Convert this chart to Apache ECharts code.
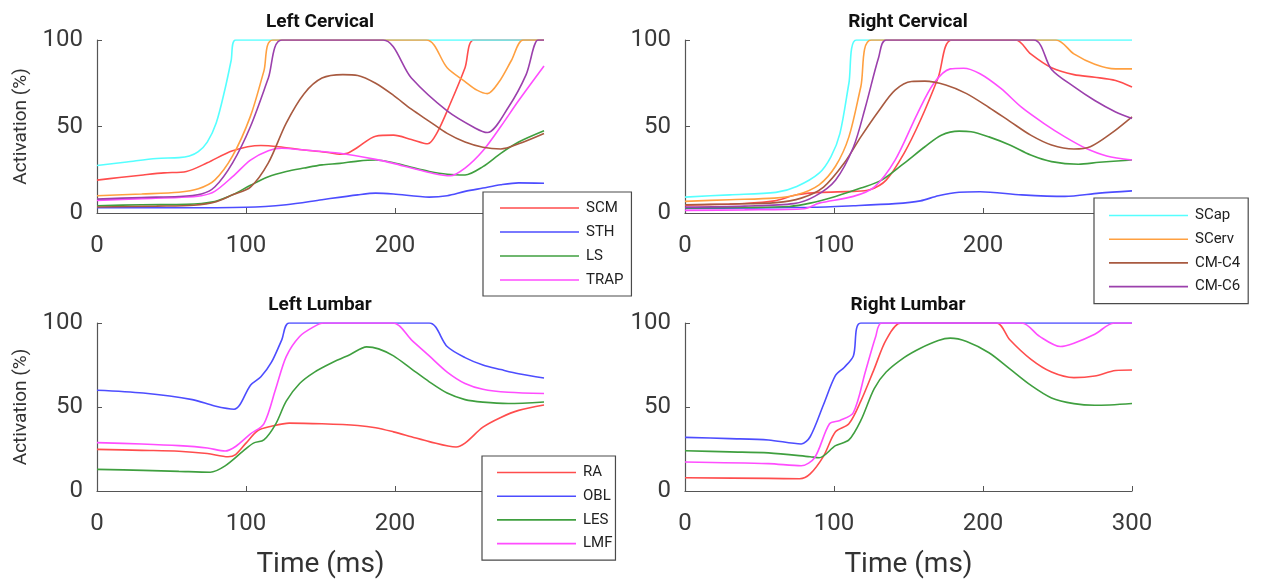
<!DOCTYPE html>
<html>
<head>
<meta charset="utf-8">
<script src="https://cdn.jsdelivr.net/npm/echarts@6/dist/echarts.min.js"></script>
<style>html,body{margin:0;padding:0;background:#fff}#c{width:1264px;height:580px}</style>
</head>
<body>
<div id="c"></div>
<script>
// ---- tick labels / axis ----
const xTicks = [0, 100, 200, 300];
const yTicks = [0, 50, 100];
const panelTitles = ['Left Cervical', 'Right Cervical', 'Left Lumbar', 'Right Lumbar'];
const cervicalNames = ['SCM', 'STH', 'LS', 'TRAP', 'SCap', 'SCerv', 'CM-C4', 'CM-C6'];
const lumbarNames = ['RA', 'OBL', 'LES', 'LMF'];

// ---- Left Cervical: [time ms, activation %] ----
const lcSCM = [[0,19],[15,20.5],[31,22],[45,23.2],[60,24],[74,29],[91,36],[110,39],[122,38.3],[139,36.4],[155,35],[163,34],[168,34.5],[175,38],[187,44.4],[199,45],[211,42.5],[222,40],[228,46],[237,63],[247,84],[253,100],[300,100]];
const lcSTH = [[0,3],[50,3],[100,3.3],[127,4.8],[151,7.7],[175,10.5],[187,11.5],[199,11],[223,9.2],[235,10],[247,12.5],[259,14.4],[271,16.3],[283,17.4],[300,17.2]];
const lcLS = [[0,4.2],[30,4.8],[60,5],[79,6.7],[91,10.5],[103,16],[115,21],[127,24],[139,26],[151,27.8],[163,28.7],[175,30],[187,30.6],[199,29],[211,26.4],[223,24],[235,22.4],[247,22],[259,26.8],[271,34.5],[283,41],[300,47.5]];
const lcTRAP = [[0,7.3],[30,8.3],[55,9],[70,10],[79,12.5],[91,21],[103,30.6],[115,36],[124,37.4],[139,36.4],[163,34.5],[187,31],[199,28.7],[211,26],[223,23.4],[237,21.5],[247,26],[259,36],[271,50],[283,65],[300,85]];
const lcSCap = [[0,27.5],[20,29.5],[40,31.5],[55,32],[62,33],[68,35.5],[74,41],[80,52],[86,72],[90,88],[93,100],[300,100]];
const lcSCerv = [[0,10],[30,11],[55,12],[68,14],[79,19],[91,33],[103,56],[112,82],[118,100],[221,100],[235,84],[247,76],[255,71],[262,69],[270,76],[278,88],[286,100],[300,100]];
const lcCMC4 = [[0,3.5],[40,4],[65,4.5],[80,6.5],[91,10.5],[103,15],[115,29],[127,52],[139,69],[151,78],[165,80],[175,79.5],[187,75],[199,68],[211,60],[223,53],[235,46],[247,41],[259,38],[271,37],[283,40],[300,46]];
const lcCMC6 = [[0,8],[30,9],[55,9.5],[70,11],[79,15],[91,29],[103,50],[115,78],[124,100],[192,100],[211,78],[235,59],[254,49],[262,46.5],[276,61],[288,80],[296,100],[300,100]];

// ---- Right Cervical ----
const rcSCM = [[0,4.5],[40,5.5],[60,7],[75,10.5],[90,11.9],[113,12.5],[124,13.4],[135,19],[147,34.5],[158,53.6],[170,78.5],[179,100],[222,100],[232,92],[246,84],[261,80],[275,78.5],[289,76.6],[300,72.8]];
const rcSTH = [[0,2.7],[84,3.3],[113,4.2],[141,5.4],[158,7],[170,10],[184,12],[198,12.3],[226,10.5],[255,9.6],[278,11.5],[300,12.8]];
const rcLS = [[0,2.9],[40,3.2],[70,3.8],[84,5.7],[101,9.6],[118,14.4],[132,19],[147,28.7],[161,38.3],[172,45],[184,47.3],[192,47],[204,44],[218,39.3],[232,33.5],[246,29.7],[264,28.2],[278,29.3],[300,30.6]];
const rcTRAP = [[0,1.5],[40,1.8],[80,2.5],[90,5.7],[113,9.6],[127,15],[141,30.6],[156,57.5],[167,75],[178,83.3],[187,83.7],[198,80.5],[212,72],[226,61],[241,51.7],[255,44],[269,37.4],[283,33],[300,30.6]];
const rcSCap = [[0,9.2],[30,10.5],[61,11.9],[75,15.3],[90,23],[98,32.6],[104,46],[110,75],[115,100],[300,100]];
const rcSCerv = [[0,6.7],[30,7.7],[60,8.6],[75,10.5],[90,16.3],[101,27],[110,44],[118,73],[125,100],[249,100],[261,92],[275,86],[289,83.3],[300,83.3]];
const rcCMC4 = [[0,4.8],[30,5.2],[61,6],[78,8.6],[93,15],[107,29],[118,44],[130,59],[141,71],[152,76],[161,76.2],[175,74],[189,69],[204,61],[218,53],[232,45],[246,39.3],[261,37],[272,38.3],[286,46],[300,55.6]];
const rcCMC6 = [[0,3.4],[40,4],[73,5.4],[87,9.6],[101,19],[113,38],[121,61],[130,90],[135,100],[234,100],[246,83],[261,73],[275,65],[289,58.4],[300,54.6]];

// ---- Left Lumbar ----
const llRA = [[0,24.8],[30,24.2],[55,23.7],[74,22.3],[88,20.4],[93,21.7],[100,28.5],[108,36],[117,38.5],[129,40.4],[151,40],[175,39],[187,37.7],[199,35.2],[211,32.3],[223,29.4],[241,26.2],[247,28.5],[259,38],[271,43.8],[283,48],[300,51.2]];
const llOBL = [[0,60],[31,58.3],[64,54.4],[79,50.6],[92,48.7],[96,51.5],[103,63],[110,68],[117,76.5],[124,90],[129,100],[223,100],[235,86],[247,79.4],[259,75],[271,72.3],[283,69.8],[300,67.3]];
const llLES = [[0,12.9],[31,12.3],[55,11.7],[76,11.2],[86,15],[98,23.7],[105,28.5],[112,30.4],[120,40],[127,53.5],[136,64],[146,70.8],[158,76.5],[170,81.3],[181,85.8],[189,84.6],[199,80.4],[211,72.7],[223,65],[235,58.3],[247,54.4],[259,52.9],[276,52.1],[300,53]];
const llLMF = [[0,28.8],[30,28],[55,27],[74,25.6],[86,23.8],[93,26.5],[103,34],[112,40],[120,61],[127,80],[136,92],[146,98],[152,100],[199,100],[211,90],[223,80.4],[235,70.8],[247,64],[259,60.6],[276,58.8],[300,58]];

// ---- Right Lumbar ----
const rlRA = [[0,7.9],[56,7.5],[77,7.3],[84,10.2],[93,20.8],[101,35.2],[110,40],[118,53.5],[127,72.7],[135,90],[145,100],[209,100],[218,90],[232,78.5],[246,70.8],[261,67.5],[275,68.5],[289,71.7],[300,72]];
const rlOBL = [[0,31.9],[30,31.2],[56,30.4],[78,28],[84,32.3],[93,51.5],[101,68.8],[107,73.7],[113,80.4],[118,100],[300,100]];
const rlLES = [[0,24],[30,23.3],[56,22.7],[84,20.4],[90,19.8],[101,27],[110,30.4],[118,42],[127,61],[135,70.8],[147,79.4],[158,85],[170,89.6],[178,91],[189,89],[204,82.3],[218,72.7],[232,63],[246,55.4],[261,52],[275,51],[300,52.1]];
const rlLMF = [[0,17.3],[56,16.3],[78,15],[87,19.8],[97,40],[104,42],[113,46.7],[121,70.8],[128,92],[132,100],[226,100],[238,92],[252,86],[261,88],[275,93.3],[288,100],[300,100]];

const cervColors = ['#ff4d4d', '#4d4dff', '#3f9f3f', '#ff4dff', '#55ffff', '#ffa040', '#a85a40', '#9b40ac'];
const lumbColors = ['#ff4d4d', '#4d4dff', '#3f9f3f', '#ff4dff'];

const panels = [
  { data: [lcSCM, lcSTH, lcLS, lcTRAP, lcSCap, lcSCerv, lcCMC4, lcCMC6], names: cervicalNames, colors: cervColors },
  { data: [rcSCM, rcSTH, rcLS, rcTRAP, rcSCap, rcSCerv, rcCMC4, rcCMC6], names: cervicalNames, colors: cervColors },
  { data: [llRA, llOBL, llLES, llLMF], names: lumbarNames, colors: lumbColors },
  { data: [rlRA, rlOBL, rlLES, rlLMF], names: lumbarNames, colors: lumbColors }
];

const gridPos = [
  { left: 97, top: 40, width: 447, height: 173 },
  { left: 685, top: 40, width: 447, height: 173 },
  { left: 97, top: 323, width: 447, height: 172 },
  { left: 685, top: 323, width: 447, height: 172 }
];
const titleCenters = [[320, 13], [908, 13], [320, 296], [908, 296]];

const axisCol = '#555';
const labelFont = { fontFamily: 'Roboto', fontSize: 24, color: '#3a3a3a' };
// thin horizontal bar icon in a 80x16 box (line sample in legend)
const lineIcon = 'path://M0,0 M0,7.2 L80,7.2 L80,8.8 L0,8.8 Z M80,16';

const option = {
  animation: false,
  backgroundColor: '#fff',
  title: panelTitles.map((t, i) => ({
    text: t, left: titleCenters[i][0], top: titleCenters[i][1], textAlign: 'center', padding: 0,
    textStyle: { fontFamily: 'Roboto', fontWeight: 'bold', fontSize: 19, color: '#111' }
  })),
  grid: gridPos.map(g => Object.assign({ containLabel: false }, g)),
  xAxis: gridPos.map((g, i) => ({
    gridIndex: i, type: 'value', min: xTicks[0], max: xTicks[xTicks.length - 1], interval: 100,
    name: i >= 2 ? 'Time (ms)' : '', nameLocation: 'middle', nameGap: 60,
    nameTextStyle: { fontFamily: 'Roboto', fontSize: 28, color: '#333' },
    axisLine: { show: true, onZero: false, lineStyle: { color: axisCol, width: 1.2 } },
    axisTick: { show: true, inside: true, length: 5, lineStyle: { color: axisCol } },
    axisLabel: Object.assign({ margin: 21, showMinLabel: true, showMaxLabel: true }, labelFont),
    splitLine: { show: false }
  })),
  yAxis: gridPos.map((g, i) => ({
    gridIndex: i, type: 'value', min: yTicks[0], max: yTicks[yTicks.length - 1], interval: 50,
    name: (i % 2 === 0) ? 'Activation (%)' : '', nameLocation: 'middle', nameGap: 66,
    nameTextStyle: { fontFamily: 'Roboto', fontSize: 19, color: '#333' },
    axisLine: { show: true, onZero: false, lineStyle: { color: axisCol, width: 1.2 } },
    axisTick: { show: true, inside: true, length: 5, lineStyle: { color: axisCol } },
    axisLabel: Object.assign({ margin: 14 }, labelFont),
    splitLine: { show: false }
  })),
  legend: [
    { data: cervicalNames.slice(0, 4), left: 483, top: 192, padding: [8, 8, 8, 17], itemGap: 8 },
    { data: cervicalNames.slice(4), left: 1094, top: 198, padding: [9.5, 8, 9, 15], itemGap: 7.7 },
    { data: lumbarNames, left: 482, top: 456, padding: [8.5, 3, 8.5, 15], itemGap: 7.7 }
  ].map(l => Object.assign({
    orient: 'vertical', itemWidth: 79, itemHeight: 16, icon: lineIcon, symbolKeepAspect: false,
    backgroundColor: '#fff', borderColor: '#4a4a4a', borderWidth: 1.2, borderRadius: 0,
    selectedMode: false,
    textStyle: { fontFamily: 'Roboto', fontSize: 15, lineHeight: 16, color: '#222', padding: [0, 0, 0, 2] }
  }, l)),
  series: []
};

panels.forEach((p, gi) => {
  p.data.forEach((d, k) => {
    option.series.push({
      type: 'line', name: p.names[k], xAxisIndex: gi, yAxisIndex: gi,
      data: d, symbol: 'none', smooth: 0.3, clip: true,
      lineStyle: { color: p.colors[k], width: 1.6 }, itemStyle: { color: p.colors[k] }
    });
  });
});

const chart = echarts.init(document.getElementById('c'), null, { renderer: 'canvas' });
chart.setOption(option);
</script>
</body>
</html>
